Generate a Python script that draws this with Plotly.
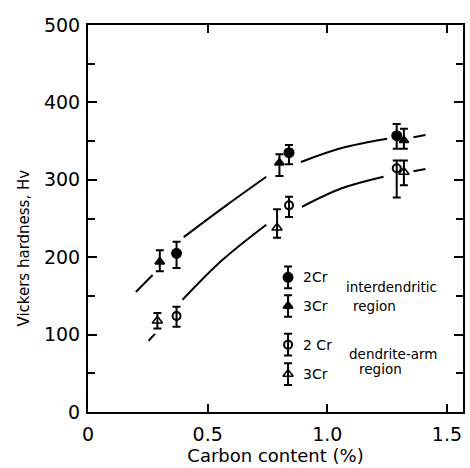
import plotly.graph_objects as go

# ---- data ----
inter_2cr_x = [0.37, 0.84, 1.29]
inter_2cr_y = [205, 335, 357]
inter_2cr_up = [15, 10, 15]
inter_2cr_dn = [19, 15, 17]

inter_3cr_x = [0.30, 0.80, 1.32]
inter_3cr_y = [194, 322, 351]
inter_3cr_up = [15, 11, 15]
inter_3cr_dn = [12, 17, 11]

arm_2cr_x = [0.37, 0.84, 1.29]
arm_2cr_y = [124, 267, 315]
arm_2cr_up = [12, 11, 10]
arm_2cr_dn = [14, 15, 38]

arm_3cr_x = [0.29, 0.79, 1.32]
arm_3cr_y = [118, 238, 310]
arm_3cr_up = [10, 24, 15]
arm_3cr_dn = [10, 13, 17]

# fitted curves (broken near data points)
upper_curve_x = [0.20, 0.27, None, 0.40, 0.578, 0.745, None, 0.89, 1.06, 1.25, None, 1.36, 1.41]
upper_curve_y = [155, 177, None, 226, 267, 304, None, 323, 341, 353, None, 355, 358]
lower_curve_x = [0.253, 0.28, None, 0.395, 0.56, 0.745, None, 0.894, 1.06, 1.235, None, 1.36, 1.41]
lower_curve_y = [92, 101, None, 145, 196, 242, None, 265, 289, 304, None, 311, 314]

# in-plot key
key_x = 0.836
key_y = [174, 137, 87, 49]
key_err = 14
key_labels = ["2Cr", "3Cr", "2 Cr", "3Cr"]

x_ticks = [0, 0.5, 1.0, 1.5]
x_ticklabels = ["0", "0.5", "1.0", "1.5"]
y_ticks = [0, 100, 200, 300, 400, 500]

FONT = "DejaVu Sans"
fig = go.Figure()

for cx, cy in [(upper_curve_x, upper_curve_y), (lower_curve_x, lower_curve_y)]:
    fig.add_trace(go.Scatter(x=cx, y=cy, mode="lines", line=dict(color="black", width=2, shape="spline"),
                             connectgaps=False, showlegend=False, hoverinfo="skip"))

series = [
    (inter_2cr_x, inter_2cr_y, inter_2cr_up, inter_2cr_dn, "circle", "black", 9, 2),
    (inter_3cr_x, inter_3cr_y, inter_3cr_up, inter_3cr_dn, "triangle-up", "black", 8, 2),
    (arm_2cr_x, arm_2cr_y, arm_2cr_up, arm_2cr_dn, "circle-open", "black", 8, 2),
    (arm_3cr_x, arm_3cr_y, arm_3cr_up, arm_3cr_dn, "triangle-up-open", "black", 9, 1.5),
]
for sx, sy, up, dn, sym, col, sz, lw in series:
    fig.add_trace(go.Scatter(
        x=sx, y=sy, mode="markers",
        marker=dict(symbol=sym, size=sz, color=col, line=dict(color="black", width=lw)),
        error_y=dict(type="data", array=up, arrayminus=dn, symmetric=False,
                     color="black", thickness=2, width=4),
        showlegend=False))

# key markers
for (sx, sy, up, dn, sym, col, sz, lw), ky in zip(series, key_y):
    fig.add_trace(go.Scatter(
        x=[key_x], y=[ky], mode="markers",
        marker=dict(symbol=sym, size=sz, color=col, line=dict(color="black", width=lw)),
        error_y=dict(type="constant", value=key_err, color="black", thickness=2, width=4),
        showlegend=False))

for ky, lab in zip(key_y, key_labels):
    fig.add_annotation(x=0.89, y=ky, text=lab, showarrow=False, xanchor="left", yanchor="middle",
                       font=dict(family=FONT, size=14, color="black"))

small = dict(family=FONT, size=13.5, color="black")
fig.add_annotation(x=1.07, y=161, text="interdendritic", showarrow=False, xanchor="left", font=small)
fig.add_annotation(x=1.10, y=137, text="region", showarrow=False, xanchor="left", font=small)
fig.add_annotation(x=1.083, y=75, text="dendrite-arm", showarrow=False, xanchor="left", font=small)
fig.add_annotation(x=1.125, y=56, text="region", showarrow=False, xanchor="left", font=small)

# y-axis title placed as in the reference (slightly below centre)
fig.add_annotation(xref="paper", yref="paper", x=-0.17, y=0.423, text="Vickers hardness, Hv",
                   textangle=-90, showarrow=False, xanchor="center", yanchor="middle",
                   font=dict(family=FONT, size=15, color="black"))

axis_common = dict(showline=True, linecolor="black", linewidth=2, mirror="ticks",
                   ticks="inside", tickcolor="black", tickwidth=2, showgrid=False, zeroline=False,
                   tickfont=dict(family=FONT, size=19, color="black"))

fig.update_xaxes(range=[0, 1.567], tickvals=x_ticks, ticktext=x_ticklabels, ticklen=8,
                 title=dict(text="Carbon content (%)", font=dict(family=FONT, size=18, color="black"), standoff=6),
                 ticklabelstandoff=4, **axis_common)
fig.update_yaxes(range=[0, 500], tickvals=y_ticks, ticklen=9,
                 minor=dict(dtick=50, ticks="inside", ticklen=7, tickwidth=2, tickcolor="black"),
                 ticklabelstandoff=2, **axis_common)

fig.update_layout(width=470, height=468, margin=dict(l=88, r=5, t=25, b=56),
                  plot_bgcolor="white", paper_bgcolor="white", showlegend=False)

fig.write_html("out.html")
